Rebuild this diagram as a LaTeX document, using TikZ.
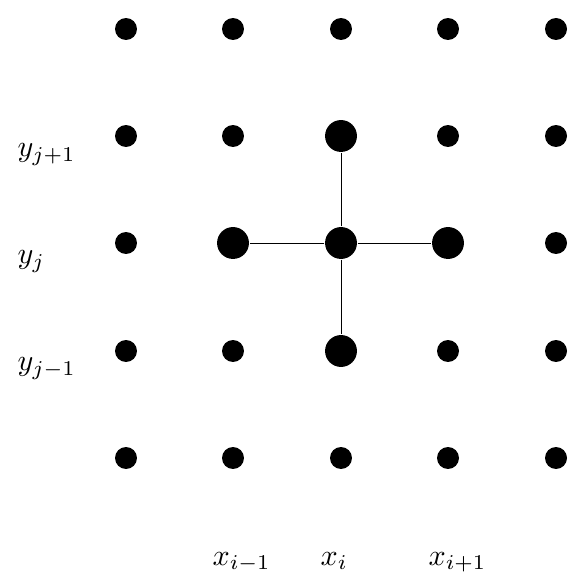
\documentclass[tikz,border=0pt]{standalone}
\begin{document}
\begin{tikzpicture}[x=0.3322pt,y=-0.3322pt,
  smalldot/.style={circle,fill=black,inner sep=0pt,minimum size=7.3pt},
  bigdot/.style={circle,fill=black,inner sep=0pt,minimum size=10.6pt},
  lab/.style={anchor=base west,inner sep=0pt,font=\normalsize},
  link/.style={line width=0.3pt}]
\useasboundingbox (0,0) rectangle (578,578);
% grid coordinates
\foreach \i/\x in {1/126,2/233,3/341,4/448,5/556}{
  \foreach \j/\y in {1/29,2/136,3/243,4/351,5/458}{
    \coordinate (c\i\j) at (\x,\y);
  }
}
% small dots
\foreach \i in {1,...,5}{
  \foreach \j in {1,...,5}{
    \pgfmathtruncatemacro{\big}{(\i==3 && \j>1 && \j<5) || (\j==3 && \i>1 && \i<5) ? 1 : 0}
    \ifnum\big=0
      \node[smalldot] (d\i\j) at (c\i\j) {};
    \fi
  }
}
% big dots
\node[bigdot] (N) at (c32) {};
\node[bigdot] (W) at (c23) {};
\node[bigdot] (C) at (c33) {};
\node[bigdot] (E) at (c43) {};
\node[bigdot] (S) at (c34) {};
% connectors
\draw[link] (C) -- (N);
\draw[link] (C) -- (S);
\draw[link] (C) -- (W);
\draw[link] (C) -- (E);
% labels
\node[lab] (ly1) at (17,157) {$y_{j+1}$};
\node[lab] (ly0) at (17,264) {$y_{j}$};
\node[lab] (ly2) at (17,371) {$y_{j-1}$};
\node[lab] (lx2) at (212,565) {$x_{i-1}$};
\node[lab] (lx0) at (320,565) {$x_{i}$};
\node[lab] (lx1) at (428,565) {$x_{i+1}$};
\end{tikzpicture}
\end{document}
